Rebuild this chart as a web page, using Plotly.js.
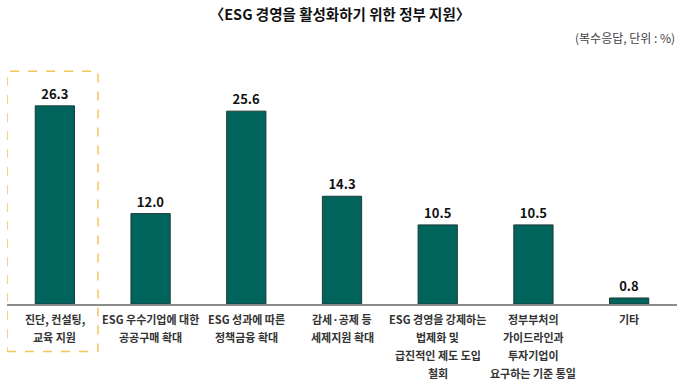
<!DOCTYPE html>
<html><head><meta charset="utf-8">
<script src="https://cdn.plot.ly/plotly-3.0.1.min.js"></script>
<style>html,body{margin:0;padding:0;background:#fff;}#chart{width:680px;height:387px;}</style>
</head><body><div id="chart"></div>
<script>
const categories = ["진단, 컨설팅,<br>교육 지원", "ESG 우수기업에 대한<br>공공구매 확대", "ESG 성과에 따른<br>정책금융 확대", "감세·공제 등<br>세제지원 확대", "ESG 경영을 강제하는<br>법제화 및<br>급진적인 제도 도입<br>철회", "정부부처의<br>가이드라인과<br>투자기업이<br>요구하는 기준 통일", "기타"];
const values = [26.3, 12.0, 25.6, 14.3, 10.5, 10.5, 0.8];
const valueLabels = ["26.3", "12.0", "25.6", "14.3", "10.5", "10.5", "0.8"];
const titleText = "〈ESG 경영을 활성화하기 위한 정부 지원〉";
const unitText = "(복수응답, 단위 : %)";

const F = '"Noto Sans CJK KR", "Noto Sans", sans-serif';
const xs = categories.map((_, i) => i);

const trace = {
  type: 'bar', x: xs, y: values, width: 0.41,
  marker: {color: '#00645C', line: {color: '#1d3a36', width: 1}},
  text: valueLabels, textposition: 'outside', cliponaxis: false,
  textfont: {family: F, size: 13, color: '#111', weight: 700},
  hoverinfo: 'skip'
};

const annotations = [
  {text: unitText, xref: 'paper', yref: 'paper', x: 1, xanchor: 'right', y: 1.0, yshift: 41, yanchor: 'middle', showarrow: false, font: {family: F, size: 12, color: '#444'}}
];
categories.forEach((c, i) => {
  c.split('<br>').forEach((line, j) => {
    annotations.push({text: line, xref: 'x', yref: 'paper', x: i, y: 0, yanchor: 'middle', xanchor: 'center',
      yshift: -(15 + 18 * j), showarrow: false, font: {family: F, size: 11, color: '#333', weight: 600}});
  });
});

const layout = {
  width: 680, height: 387,
  margin: {l: 7, r: 3, t: 78, b: 83},
  paper_bgcolor: '#fff', plot_bgcolor: '#fff',
  showlegend: false, bargap: 0.59,
  title: {text: titleText, x: 0.5, xanchor: 'center', y: 0.962, yanchor: 'middle', font: {family: F, size: 14.5, color: '#111', weight: 700}},
  xaxis: {
    range: [-0.5, 6.5], tickvals: xs, showticklabels: false, ticks: '',
    showline: true, linecolor: '#8c8c8c', linewidth: 1.5, showgrid: false, zeroline: false
  },
  yaxis: {range: [0, 30], visible: false, showgrid: false, zeroline: false},
  annotations: annotations,
  shapes: [
    {type: 'rect', xref: 'x', yref: 'paper', x0: -0.5, x1: 0.45, y0: -0.21, y1: 1.03, line: {color: '#F5C45A', width: 1.5, dash: 'dash'}, fillcolor: 'rgba(0,0,0,0)'}
  ]
};

Plotly.newPlot('chart', [trace], layout, {displayModeBar: false, staticPlot: true});
</script></body></html>
